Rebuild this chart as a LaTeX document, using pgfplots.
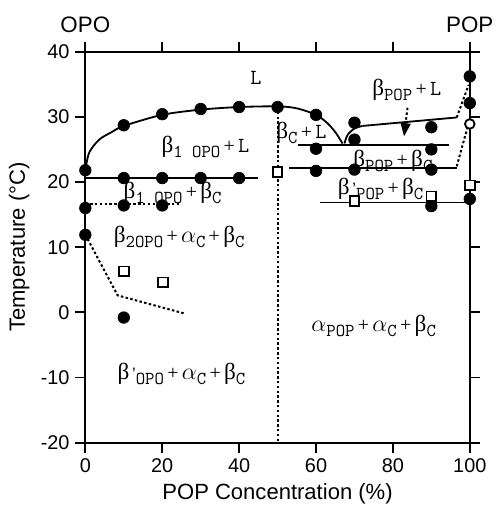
\documentclass[border=0pt]{standalone}
\usepackage{fontspec}
\setmainfont{Liberation Sans}
\newfontfamily\grk{Liberation Serif}
\usepackage{pgfplots}
\pgfplotsset{compat=1.18}
\usetikzlibrary{arrows.meta}

\newcommand{\bt}{{\grk\fontsize{14}{14}\selectfont β}}
\newcommand{\al}{{\fontsize{14}{14}\selectfont$\alpha$}}
\newcommand{\sbs}[1]{\raisebox{-0.55ex}{\fontsize{11}{10}\selectfont\ttfamily #1}}
\newcommand{\pl}{{\grk\fontsize{12}{12}\selectfont\,+\,}}
\newcommand{\Lq}{{\fontsize{13}{12}\selectfont\ttfamily L}}

\begin{document}
\begin{tikzpicture}
\begin{axis}[
  scale only axis, width=232pt, height=236pt,
  xmin=0, xmax=100, ymin=-20, ymax=40,
  xtick={0,20,...,100}, ytick={-20,-10,...,40},
  tick pos=both, xticklabel pos=bottom, yticklabel pos=left,
  tick align=outside, major tick length=6pt,
  axis line style={line width=1.1pt},
  every tick/.style={line width=1.1pt, black},
  /pgf/number format/assume math mode=true,
  tick label style={font=\fontsize{12}{12}\selectfont},
  label style={font=\fontsize{13.3}{14}\selectfont},
  xlabel={POP Concentration (\%)}, ylabel={Temperature (°C)},
  clip=false,
  solidl/.style={black, line width=1.1pt, no marks},
  dotl/.style={black, line width=1.2pt, no marks, dash pattern=on 1.5pt off 1.4pt},
]
\path (rel axis cs:-0.222,-0.162) rectangle (rel axis cs:1.070,1.132);

% liquidus curves
\addplot[solidl, smooth] coordinates {(0,21.8) (1,24.5) (3.6,26.5) (7,27.7) (10,28.6) (20,30.3) (30,31.1) (40,31.5) (50,31.6) (55,31.3) (60,30.3) (63,29.0) (65.2,27.5) (66.9,25.9)};
\addplot[solidl, smooth] coordinates {(67.4,25.9) (68.2,27.2) (70,28.2) (72.1,28.6)};
\addplot[solidl] coordinates {(72.1,28.6) (96.6,29.9)};

% horizontal solid lines
\addplot[solidl] coordinates {(0,20.65) (45,20.65)};
\addplot[solidl] coordinates {(55.3,25.65) (94.5,25.65)};
\addplot[solidl] coordinates {(53,22.2) (96.6,22.2)};
\addplot[solidl] coordinates {(61,16.85) (100,16.85)};

% dotted lines
\addplot[dotl] coordinates {(50,31.5) (50,-20)};
\addplot[dotl] coordinates {(0,16.6) (24.3,16.6)};
\addplot[dotl] coordinates {(0,11.9) (8.4,2.6) (25.6,-0.15)};
\addplot[dotl] coordinates {(96.6,29.9) (99.7,34.9)};
\addplot[dotl] coordinates {(96.6,22.4) (99.7,29.0)};
\addplot[dotl, -{Triangle[width=6pt,length=8pt]}] coordinates {(83.8,31.4) (82.9,27.0)};

% filled circles
\addplot[only marks, mark=*, mark size=3.5pt, black] coordinates {
(0,21.8) (0,16.0) (0,11.9) (10,28.7) (20,30.4) (30,31.2) (40,31.5) (50,31.5)
(60,30.3) (70,29.1) (70,26.5) (90,28.4) (100,36.2) (100,32.1)
(10,20.6) (20,20.6) (30,20.6) (40,20.6) (10,16.4) (20,16.4) (10,-0.8)
(60,25.1) (90,25.0) (60,21.7) (70,21.9) (90,21.9) (90,16.3) (100,17.4)};

% open squares
\addplot[only marks, mark=square*, mark size=2.9pt, draw=black, fill=white, line width=1.1pt] coordinates {
(10,6.3) (20.2,4.6) (50,21.5) (70,17.1) (90,17.8) (100,19.5)};

% open circle
\addplot[only marks, mark=*, mark size=2.9pt, draw=black, fill=white, line width=1.1pt] coordinates {(100,28.9)};

% top labels
\node[font=\fontsize{13.5}{14}\selectfont] at (axis cs:0,44.1) {OPO};
\node[font=\fontsize{13.5}{14}\selectfont] at (axis cs:100,44.1) {POP};

% region labels
\node at (axis cs:44.4,36.0) {\Lq};
\node[anchor=base west] at (axis cs:18.3,24.5) {\bt\sbs{1 OPO}\pl\Lq};
\node at (axis cs:22.7,18.3) {\bt\sbs{1 OPO}\pl\bt\sbs{C}};
\node at (axis cs:24.4,11.6) {\bt\sbs{2OPO}\pl\al\sbs{C}\pl\bt\sbs{C}};
\node at (axis cs:25,-9.5) {\bt\,'\sbs{OPO}\pl\al\sbs{C}\pl\bt\sbs{C}};
\node at (axis cs:75,-2.1) {\al\sbs{POP}\pl\al\sbs{C}\pl\bt\sbs{C}};
\node at (axis cs:56.2,27.5) {\bt\sbs{C}\pl\Lq};
\node at (axis cs:83.6,34.1) {\bt\sbs{POP}\pl\Lq};
\node at (axis cs:80,23.2) {\bt\sbs{POP}\pl\bt\sbs{C}};
\node at (axis cs:76.8,18.9) {\bt\,'\sbs{POP}\pl\bt\sbs{C}};
\end{axis}
\end{tikzpicture}
\end{document}
